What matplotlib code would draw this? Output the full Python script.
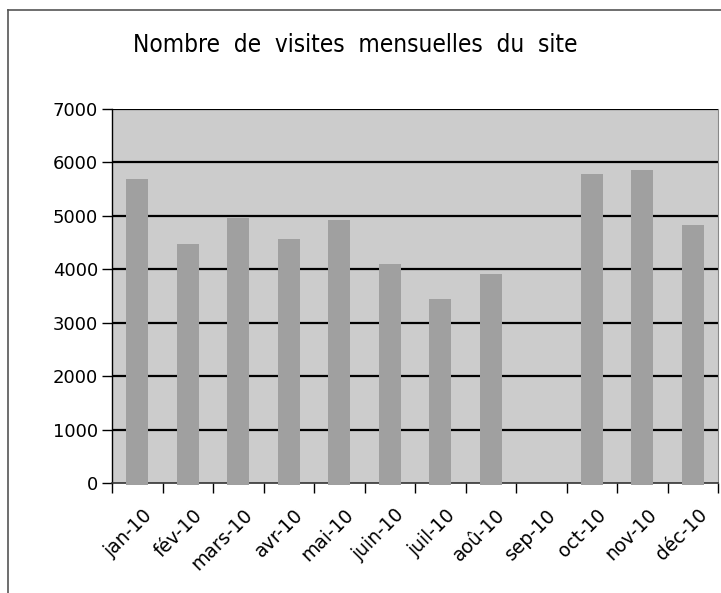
import matplotlib
matplotlib.use("Agg")
import matplotlib.pyplot as plt
from matplotlib.lines import Line2D
from matplotlib import font_manager as fm
import matplotlib.transforms as mtransforms
import numpy as np

months = ["jan-10", "fév-10", "mars-10", "avr-10", "mai-10", "juin-10",
          "juil-10", "aoû-10", "sep-10", "oct-10", "nov-10", "déc-10"]
visits = [5690, 4470, 4960, 4570, 4920, 4100, 3440, 3910, 0, 5780, 5860, 4830]
yticks = [0, 1000, 2000, 3000, 4000, 5000, 6000, 7000]
title = "Nombre  de  visites  mensuelles  du  site"

W, H = 721, 593
fig = plt.figure(figsize=(W / 100, H / 100), dpi=100)
fig.patch.set_facecolor("white")

ax = fig.add_axes([112 / W, 1 - 483 / H, (718 - 112) / W, (483 - 109) / H])
ax.set_facecolor("#cccccc")

x = np.arange(len(months))
ax.bar(x, [v + 40 if v > 0 else 0 for v in visits], width=0.43, color="#a0a0a0",
       zorder=3, bottom=-40, clip_on=False)

ax.set_xlim(-0.5, len(months) - 0.5)
ax.set_ylim(0, 7000)
ax.set_yticks(yticks)
ax.set_yticklabels([str(v) for v in yticks], fontsize=13, family="DejaVu Sans")
for v in yticks[1:]:
    ax.axhline(v, color="black", lw=1.6, zorder=2)

ax.set_xticks(x)
ax.set_xticklabels(months, rotation=45, ha="right", rotation_mode="anchor",
                   fontsize=13.5, family="DejaVu Sans")
ax.tick_params(axis="x", which="major", length=0, pad=14)
ax.set_xticks(np.arange(-0.5, len(months)), minor=True)
ax.tick_params(axis="x", which="minor", length=7, width=1, color="black", direction="out")
ax.tick_params(axis="y", length=7, width=1, direction="out", pad=3)

offset = mtransforms.ScaledTranslation(5 / 100, -3 / 100, fig.dpi_scale_trans)
for lab in ax.get_xticklabels():
    lab.set_transform(lab.get_transform() + offset)

ax.spines["left"].set_color("black")
ax.spines["left"].set_linewidth(1)
ax.spines["bottom"].set_color("#333333")
ax.spines["bottom"].set_linewidth(1.2)
ax.spines["right"].set_color("#888888")
ax.spines["top"].set_visible(False)

names = {f.name for f in fm.fontManager.ttflist}
if "Liberation Sans Narrow" in names:
    tfam = ["Liberation Sans Narrow", "DejaVu Sans"]
    tstretch = "normal"
else:
    tfam = ["DejaVu Sans"]
    tstretch = "condensed"
fig.text(355 / W, 1 - 45 / H, title, ha="center", va="center", fontsize=17.5,
         family=tfam, fontstretch=tstretch)

fig.add_artist(Line2D([8 / W, 8 / W], [0, 1 - 10 / H], transform=fig.transFigure,
                      color="#555555", lw=1.2))
fig.add_artist(Line2D([8 / W, 1], [1 - 10 / H, 1 - 10 / H], transform=fig.transFigure,
                      color="#555555", lw=1.2))

fig.savefig("out.png", dpi=100)
